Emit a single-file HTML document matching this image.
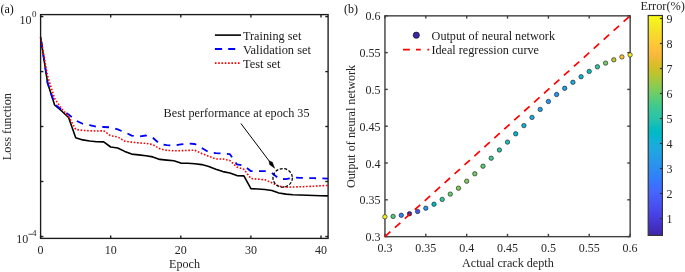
<!DOCTYPE html>
<html><head><meta charset="utf-8"><style>
html,body{margin:0;padding:0;background:#fff;}
body{width:685px;height:272px;overflow:hidden;font-family:"Liberation Serif",serif;}
svg{display:block;will-change:transform;}
</style></head><body>
<svg width="685" height="272" viewBox="0 0 685 272">
<defs>
<linearGradient id="cb" x1="0" y1="0" x2="0" y2="1">
<stop offset="0.0000" stop-color="#f9fb15"/>
<stop offset="0.0159" stop-color="#f7f51b"/>
<stop offset="0.0317" stop-color="#f6ef20"/>
<stop offset="0.0476" stop-color="#f5e924"/>
<stop offset="0.0635" stop-color="#f5e327"/>
<stop offset="0.0794" stop-color="#f7dc2a"/>
<stop offset="0.0952" stop-color="#fad62d"/>
<stop offset="0.1111" stop-color="#fccf30"/>
<stop offset="0.1270" stop-color="#fec934"/>
<stop offset="0.1429" stop-color="#fec338"/>
<stop offset="0.1587" stop-color="#febe3c"/>
<stop offset="0.1746" stop-color="#f8ba3d"/>
<stop offset="0.1905" stop-color="#f0ba36"/>
<stop offset="0.2063" stop-color="#e6bb2d"/>
<stop offset="0.2222" stop-color="#dcbd29"/>
<stop offset="0.2381" stop-color="#d1bf27"/>
<stop offset="0.2540" stop-color="#c5c22a"/>
<stop offset="0.2698" stop-color="#b9c431"/>
<stop offset="0.2857" stop-color="#abc739"/>
<stop offset="0.3016" stop-color="#9dc943"/>
<stop offset="0.3175" stop-color="#8fcb4e"/>
<stop offset="0.3333" stop-color="#81cc59"/>
<stop offset="0.3492" stop-color="#72cd64"/>
<stop offset="0.3651" stop-color="#64cd6f"/>
<stop offset="0.3810" stop-color="#57cc7a"/>
<stop offset="0.3968" stop-color="#4acb84"/>
<stop offset="0.4127" stop-color="#3fca8e"/>
<stop offset="0.4286" stop-color="#37c897"/>
<stop offset="0.4444" stop-color="#31c69f"/>
<stop offset="0.4603" stop-color="#2cc4a7"/>
<stop offset="0.4762" stop-color="#24c1ae"/>
<stop offset="0.4921" stop-color="#19bfb6"/>
<stop offset="0.5079" stop-color="#0bbdbd"/>
<stop offset="0.5238" stop-color="#02bac3"/>
<stop offset="0.5397" stop-color="#01b8ca"/>
<stop offset="0.5556" stop-color="#08b5d0"/>
<stop offset="0.5714" stop-color="#12b1d6"/>
<stop offset="0.5873" stop-color="#18addb"/>
<stop offset="0.6032" stop-color="#1ca9df"/>
<stop offset="0.6190" stop-color="#20a5e3"/>
<stop offset="0.6349" stop-color="#23a0e5"/>
<stop offset="0.6508" stop-color="#259be8"/>
<stop offset="0.6667" stop-color="#2797eb"/>
<stop offset="0.6825" stop-color="#2b91ef"/>
<stop offset="0.6984" stop-color="#2d8cf3"/>
<stop offset="0.7143" stop-color="#2e87f7"/>
<stop offset="0.7302" stop-color="#2f81fa"/>
<stop offset="0.7460" stop-color="#327cfc"/>
<stop offset="0.7619" stop-color="#3875fe"/>
<stop offset="0.7778" stop-color="#3e6fff"/>
<stop offset="0.7937" stop-color="#4269fe"/>
<stop offset="0.8095" stop-color="#4563fd"/>
<stop offset="0.8254" stop-color="#465efb"/>
<stop offset="0.8413" stop-color="#4758f8"/>
<stop offset="0.8571" stop-color="#4852f4"/>
<stop offset="0.8730" stop-color="#484df0"/>
<stop offset="0.8889" stop-color="#4747eb"/>
<stop offset="0.9048" stop-color="#4741e5"/>
<stop offset="0.9206" stop-color="#463cde"/>
<stop offset="0.9365" stop-color="#4537d5"/>
<stop offset="0.9524" stop-color="#4332cb"/>
<stop offset="0.9683" stop-color="#422ec0"/>
<stop offset="0.9841" stop-color="#402ab4"/>
<stop offset="1.0000" stop-color="#3e26a8"/>
</linearGradient>
</defs>
<rect width="685" height="272" fill="#fff"/>
<!-- ======== Panel (a) ======== -->
<g font-family="Liberation Serif" font-size="12" fill="#111">
<text x="0.5" y="13">(a)</text>
</g>
<g fill="none" stroke-linejoin="round">
<polyline points="40.6,37.1 47.6,83.0 54.6,105.0 61.6,111.0 68.6,117.5 75.7,137.7 82.7,139.9 89.7,141.0 96.7,141.7 103.7,141.9 110.7,147.0 117.7,148.0 124.7,151.4 131.7,154.1 138.7,154.9 145.8,155.7 152.8,156.9 159.8,159.4 166.8,160.1 173.8,160.7 180.8,163.1 187.8,163.3 194.8,163.7 201.8,164.6 208.8,166.4 215.8,169.2 222.9,171.6 229.9,173.0 236.9,175.6 243.9,175.9 250.9,188.6 257.9,189.0 264.9,189.5 271.9,190.5 278.9,193.0 285.9,194.1 293.0,194.7 300.0,195.0 307.0,195.3 314.0,195.5 321.0,195.7 328.0,195.9" stroke="#000" stroke-width="1.6"/>
<polyline points="40.6,37.1 47.6,83.0 54.6,104.0 61.6,110.0 68.6,114.5 75.7,120.5 82.7,123.8 89.7,125.2 96.7,126.7 103.7,127.0 110.7,127.3 117.7,129.4 124.7,132.2 131.7,135.6 138.7,136.6 145.8,135.5 152.8,137.7 159.8,144.0 166.8,145.2 173.8,145.5 180.8,144.4 187.8,143.4 194.8,144.0 201.8,148.0 208.8,152.2 215.8,153.2 222.9,153.5 229.9,154.2 236.9,164.4 243.9,165.6 250.9,171.2 257.9,171.2 264.9,171.2 271.9,173.0 278.9,178.7 285.9,179.2 293.0,177.6 300.0,177.8 307.0,178.0 314.0,178.2 321.0,178.4 328.0,178.7" stroke="#0000ff" stroke-width="1.8" stroke-dasharray="6.8 6.38" stroke-dashoffset="-4.38"/>
<polyline points="40.6,37.1 47.6,76.0 54.6,98.5 61.6,108.7 68.6,116.4 75.7,129.4 82.7,130.4 89.7,130.8 96.7,131.0 103.7,130.8 110.7,135.8 117.7,137.0 124.7,141.1 131.7,142.1 138.7,142.9 145.8,143.3 152.8,144.6 159.8,148.8 166.8,150.4 173.8,150.7 180.8,150.7 187.8,150.4 194.8,150.2 201.8,153.5 208.8,156.3 215.8,159.0 222.9,159.0 229.9,160.5 236.9,167.0 243.9,169.3 250.9,178.5 257.9,179.1 264.9,179.8 271.9,182.8 278.9,186.2 285.9,187.2 293.0,187.0 300.0,186.8 307.0,186.5 314.0,186.2 321.0,185.8 328.0,185.4" stroke="#ff0000" stroke-width="1.6" stroke-dasharray="1.6 1.7"/>
</g>
<g stroke="#1a1a1a" stroke-width="1.35" fill="none">
<rect x="40.6" y="14.6" width="287.5" height="223.8"/>
<line x1="40.6" y1="238.4" x2="40.6" y2="235.6"/>
<line x1="40.6" y1="14.6" x2="40.6" y2="17.4"/>
<line x1="110.7" y1="238.4" x2="110.7" y2="235.6"/>
<line x1="110.7" y1="14.6" x2="110.7" y2="17.4"/>
<line x1="180.8" y1="238.4" x2="180.8" y2="235.6"/>
<line x1="180.8" y1="14.6" x2="180.8" y2="17.4"/>
<line x1="250.9" y1="238.4" x2="250.9" y2="235.6"/>
<line x1="250.9" y1="14.6" x2="250.9" y2="17.4"/>
<line x1="321.0" y1="238.4" x2="321.0" y2="235.6"/>
<line x1="321.0" y1="14.6" x2="321.0" y2="17.4"/>
<line x1="40.6" y1="16.6" x2="43.4" y2="16.6"/>
<line x1="328.1" y1="16.6" x2="325.3" y2="16.6"/>
<line x1="40.6" y1="71.6" x2="43.4" y2="71.6"/>
<line x1="328.1" y1="71.6" x2="325.3" y2="71.6"/>
<line x1="40.6" y1="126.5" x2="43.4" y2="126.5"/>
<line x1="328.1" y1="126.5" x2="325.3" y2="126.5"/>
<line x1="40.6" y1="181.5" x2="43.4" y2="181.5"/>
<line x1="328.1" y1="181.5" x2="325.3" y2="181.5"/>
<line x1="40.6" y1="236.5" x2="43.4" y2="236.5"/>
<line x1="328.1" y1="236.5" x2="325.3" y2="236.5"/>
</g>
<g font-family="Liberation Serif" font-size="12" fill="#262626">
<text x="40.6" y="254" text-anchor="middle">0</text>
<text x="110.7" y="254" text-anchor="middle">10</text>
<text x="180.8" y="254" text-anchor="middle">20</text>
<text x="250.9" y="254" text-anchor="middle">30</text>
<text x="321.0" y="254" text-anchor="middle">40</text>
<text x="31.4" y="23.8" text-anchor="end">10</text>
<text x="32.1" y="16.9" font-size="9">0</text>
<text x="28.2" y="242.5" text-anchor="end">10</text>
<rect x="28.4" y="233.8" width="3.7" height="0.8"/>
<text x="31.9" y="236" font-size="9">4</text>
<text x="184.5" y="268.0" text-anchor="middle" textLength="30.9" lengthAdjust="spacingAndGlyphs">Epoch</text>
<text transform="translate(11.4,126.6) rotate(-90)" text-anchor="middle" textLength="67.2" lengthAdjust="spacingAndGlyphs">Loss function</text>
</g>
<!-- legend a -->
<g fill="none">
<line x1="214.9" y1="35.1" x2="241" y2="35.1" stroke="#000" stroke-width="1.6"/>
<path d="M214.9,49H222.1M228.2,49H235.2" stroke="#0000ff" stroke-width="1.8"/>
<line x1="214.9" y1="63.1" x2="240.5" y2="63.1" stroke="#ff0000" stroke-width="1.6" stroke-dasharray="1.6 1.7"/>
</g>
<g font-family="Liberation Serif" font-size="12" fill="#1a1a1a">
<text x="243.0" y="39.6" textLength="58.3" lengthAdjust="spacingAndGlyphs">Training set</text>
<text x="243.0" y="53.6" textLength="68.0" lengthAdjust="spacingAndGlyphs">Validation set</text>
<text x="243.0" y="67.6" textLength="37.5" lengthAdjust="spacingAndGlyphs">Test set</text>
<text x="163.6" y="116.6" textLength="146.0" lengthAdjust="spacingAndGlyphs">Best performance at epoch 35</text>
</g>
<line x1="240.9" y1="123.5" x2="270" y2="162.1" stroke="#000" stroke-width="1"/>
<path d="M274.6,168.2 L269.55,164.49 L269.06,160.86 L272.43,162.33 Z" fill="#000" stroke="#000" stroke-width="0.5" stroke-linejoin="round"/>
<ellipse cx="282.65" cy="177.85" rx="9.7" ry="9.25" fill="none" stroke="#000" stroke-width="1.25" stroke-dasharray="3 1.6"/>

<!-- ======== Panel (b) ======== -->
<g font-family="Liberation Serif" font-size="12" fill="#111">
<text x="344" y="13">(b)</text>
</g>
<g stroke="#404040" stroke-width="1.4" fill="none">
<rect x="384.95" y="15.85" width="245.2" height="220.8"/>
<line x1="384.9" y1="236.6" x2="384.9" y2="233.8"/>
<line x1="384.9" y1="15.8" x2="384.9" y2="18.6"/>
<line x1="384.9" y1="236.6" x2="387.8" y2="236.6"/>
<line x1="630.1" y1="236.6" x2="627.3" y2="236.6"/>
<line x1="425.8" y1="236.6" x2="425.8" y2="233.8"/>
<line x1="425.8" y1="15.8" x2="425.8" y2="18.6"/>
<line x1="384.9" y1="199.8" x2="387.8" y2="199.8"/>
<line x1="630.1" y1="199.8" x2="627.3" y2="199.8"/>
<line x1="466.7" y1="236.6" x2="466.7" y2="233.8"/>
<line x1="466.7" y1="15.8" x2="466.7" y2="18.6"/>
<line x1="384.9" y1="163.0" x2="387.8" y2="163.0"/>
<line x1="630.1" y1="163.0" x2="627.3" y2="163.0"/>
<line x1="507.5" y1="236.6" x2="507.5" y2="233.8"/>
<line x1="507.5" y1="15.8" x2="507.5" y2="18.6"/>
<line x1="384.9" y1="126.2" x2="387.8" y2="126.2"/>
<line x1="630.1" y1="126.2" x2="627.3" y2="126.2"/>
<line x1="548.4" y1="236.6" x2="548.4" y2="233.8"/>
<line x1="548.4" y1="15.8" x2="548.4" y2="18.6"/>
<line x1="384.9" y1="89.4" x2="387.8" y2="89.4"/>
<line x1="630.1" y1="89.4" x2="627.3" y2="89.4"/>
<line x1="589.2" y1="236.6" x2="589.2" y2="233.8"/>
<line x1="589.2" y1="15.8" x2="589.2" y2="18.6"/>
<line x1="384.9" y1="52.6" x2="387.8" y2="52.6"/>
<line x1="630.1" y1="52.6" x2="627.3" y2="52.6"/>
<line x1="630.1" y1="236.6" x2="630.1" y2="233.8"/>
<line x1="630.1" y1="15.8" x2="630.1" y2="18.6"/>
<line x1="384.9" y1="15.8" x2="387.8" y2="15.8"/>
<line x1="630.1" y1="15.8" x2="627.3" y2="15.8"/>
</g>
<g stroke="#111" stroke-width="0.6">
<circle cx="384.9" cy="216.8" r="2.2" fill="#f7f41c"/>
<circle cx="393.1" cy="216.4" r="2.2" fill="#4acb84"/>
<circle cx="401.3" cy="215.3" r="2.2" fill="#2e85f8"/>
<circle cx="409.5" cy="213.7" r="2.2" fill="#3e27aa"/>
<circle cx="417.6" cy="211.5" r="2.2" fill="#4758f8"/>
<circle cx="425.8" cy="208.2" r="2.2" fill="#2797eb"/>
<circle cx="434.0" cy="204.2" r="2.2" fill="#01b9c7"/>
<circle cx="442.2" cy="199.4" r="2.2" fill="#33c79d"/>
<circle cx="450.3" cy="194.1" r="2.2" fill="#5fcd73"/>
<circle cx="458.5" cy="188.2" r="2.2" fill="#83cc57"/>
<circle cx="466.7" cy="181.2" r="2.2" fill="#80cc5a"/>
<circle cx="474.8" cy="173.8" r="2.2" fill="#6ecd67"/>
<circle cx="483.0" cy="166.2" r="2.2" fill="#59cc78"/>
<circle cx="491.2" cy="158.2" r="2.2" fill="#3dc990"/>
<circle cx="499.4" cy="150.0" r="2.2" fill="#2cc4a7"/>
<circle cx="507.5" cy="142.1" r="2.2" fill="#19bfb5"/>
<circle cx="515.7" cy="133.8" r="2.2" fill="#01b8c8"/>
<circle cx="523.9" cy="125.6" r="2.2" fill="#12b1d7"/>
<circle cx="532.0" cy="117.4" r="2.2" fill="#1ea7e1"/>
<circle cx="540.2" cy="109.4" r="2.2" fill="#249fe6"/>
<circle cx="548.4" cy="101.5" r="2.2" fill="#2797ea"/>
<circle cx="556.6" cy="94.5" r="2.2" fill="#2698ea"/>
<circle cx="564.7" cy="88.3" r="2.2" fill="#23a1e5"/>
<circle cx="572.9" cy="82.3" r="2.2" fill="#1caadf"/>
<circle cx="581.1" cy="76.7" r="2.2" fill="#0ab4d1"/>
<circle cx="589.2" cy="71.4" r="2.2" fill="#0abdbd"/>
<circle cx="597.4" cy="66.8" r="2.2" fill="#32c69f"/>
<circle cx="605.6" cy="63.1" r="2.2" fill="#6dcd67"/>
<circle cx="613.8" cy="59.8" r="2.2" fill="#c2c22c"/>
<circle cx="621.9" cy="56.9" r="2.2" fill="#febf3b"/>
<circle cx="630.1" cy="54.9" r="2.2" fill="#f6ef20"/>
</g>
<line x1="384.95" y1="236.6" x2="630.1" y2="15.85" stroke="#ff0000" stroke-width="1.7" stroke-dasharray="7.3 6.08"/>
<g font-family="Liberation Serif" font-size="12" fill="#262626">
<text x="384.9" y="252.4" text-anchor="middle">0.3</text>
<text x="380.4" y="241.2" text-anchor="end">0.3</text>
<text x="425.8" y="252.4" text-anchor="middle">0.35</text>
<text x="380.4" y="204.4" text-anchor="end">0.35</text>
<text x="466.7" y="252.4" text-anchor="middle">0.4</text>
<text x="380.4" y="167.6" text-anchor="end">0.4</text>
<text x="507.5" y="252.4" text-anchor="middle">0.45</text>
<text x="380.4" y="130.8" text-anchor="end">0.45</text>
<text x="548.4" y="252.4" text-anchor="middle">0.5</text>
<text x="380.4" y="94.0" text-anchor="end">0.5</text>
<text x="589.2" y="252.4" text-anchor="middle">0.55</text>
<text x="380.4" y="57.2" text-anchor="end">0.55</text>
<text x="630.1" y="252.4" text-anchor="middle">0.6</text>
<text x="380.4" y="20.4" text-anchor="end">0.6</text>
<text x="507.9" y="266.6" text-anchor="middle" textLength="91.8" lengthAdjust="spacingAndGlyphs">Actual crack depth</text>
<text transform="translate(354.5,126.45) rotate(-90)" text-anchor="middle" textLength="123.3" lengthAdjust="spacingAndGlyphs">Output of neural network</text>
</g>
<!-- legend b -->
<circle cx="416.3" cy="35.2" r="3.1" fill="#3e26a8" stroke="#111" stroke-width="0.7"/>
<path d="M403,49.6H409.9M416,49.6H420.8M427.4,49.6H429.2" stroke="#ff0000" stroke-width="1.7"/>
<g font-family="Liberation Serif" font-size="12" fill="#1a1a1a">
<text x="431.6" y="39.7" textLength="123.4" lengthAdjust="spacingAndGlyphs">Output of neural network</text>
<text x="431.4" y="53.7" textLength="107.6" lengthAdjust="spacingAndGlyphs">Ideal regression curve</text>
</g>
<!-- colorbar -->
<rect x="648.2" y="15.5" width="14.2" height="219.9" fill="url(#cb)" stroke="#333" stroke-width="1.2"/>
<g stroke="#333" stroke-width="1.2">
<line x1="662.4" y1="218.5" x2="659.9" y2="218.5"/>
<line x1="662.4" y1="193.5" x2="659.9" y2="193.5"/>
<line x1="662.4" y1="168.5" x2="659.9" y2="168.5"/>
<line x1="662.4" y1="143.5" x2="659.9" y2="143.5"/>
<line x1="662.4" y1="118.5" x2="659.9" y2="118.5"/>
<line x1="662.4" y1="93.5" x2="659.9" y2="93.5"/>
<line x1="662.4" y1="68.5" x2="659.9" y2="68.5"/>
<line x1="662.4" y1="43.5" x2="659.9" y2="43.5"/>
<line x1="662.4" y1="18.5" x2="659.9" y2="18.5"/>
</g>
<g font-family="Liberation Serif" font-size="12" fill="#262626">
<text x="666.6" y="223.1">1</text>
<text x="666.6" y="198.1">2</text>
<text x="666.6" y="173.1">3</text>
<text x="666.6" y="148.1">4</text>
<text x="666.6" y="123.1">5</text>
<text x="666.6" y="98.1">6</text>
<text x="666.6" y="73.1">7</text>
<text x="666.6" y="48.1">8</text>
<text x="666.6" y="23.1">9</text>
<text x="640.4" y="9.6" textLength="44.5" lengthAdjust="spacingAndGlyphs">Error(%)</text>
</g>
</svg>
</body></html>
